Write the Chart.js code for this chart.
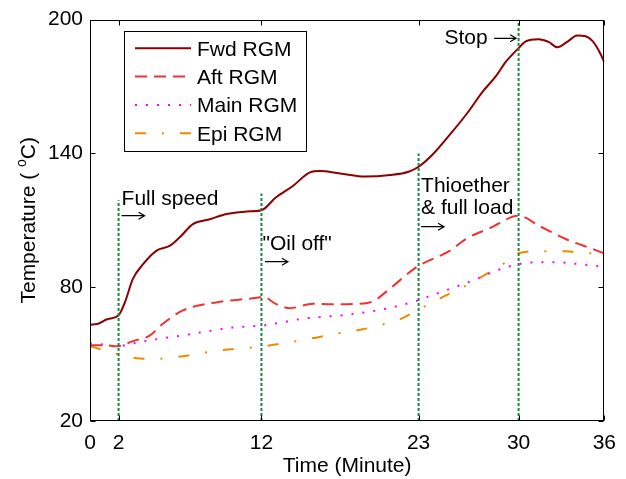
<!DOCTYPE html>
<html><head><meta charset="utf-8">
<script src="https://cdn.jsdelivr.net/npm/chart.js@4.4.1/dist/chart.umd.min.js"></script>
<style>html,body{margin:0;padding:0;background:#fff}</style>
</head><body>
<canvas id="c" width="626" height="479"></canvas>
<script>
// ---- data ----
const timeTicks = [0, 2, 12, 23, 30, 36];
const tempTicks = [20, 80, 140, 200];
const seriesNames = ['Fwd RGM', 'Aft RGM', 'Main RGM', 'Epi RGM'];

const fwdTime = [0, 0.5, 1.2, 2, 2.45, 3.0, 3.7, 4.66, 5.6, 6.3, 7.2, 8.4, 9.55, 11, 12, 13.0, 14.2, 15.4, 16.1, 17.5, 19.3, 21.0, 22.3, 23.0, 24, 25.2, 26.4, 27.5, 28.4, 29.1, 30, 30.5, 31.4, 32.1, 32.7, 33.4, 34.1, 34.7, 35.2, 35.7, 36];
const fwdTemp = [63.2, 63.5, 65.6, 67.4, 73.3, 83.7, 90.2, 96.4, 98.6, 102.5, 108.3, 110.5, 112.8, 114.0, 114.5, 120.2, 125.4, 131.5, 132.1, 131.0, 129.6, 130.3, 131.8, 134, 139.6, 148.5, 158, 167.8, 174.5, 181, 187.2, 190.2, 191.2, 190, 187.6, 190, 192.9, 192.5, 190.2, 185, 180.9];

const aftTime = [0, 1, 1.9, 3, 4.2, 5.1, 6.5, 8.9, 11.9, 12.1, 13, 14, 15.6, 17, 18.5, 19.8, 20.7, 22.9, 25.2, 26.3, 28, 30, 31.5, 33.3, 35.8, 36];
const aftTemp = [54.0, 54.0, 53.5, 55.8, 58.4, 63.6, 69.6, 73.3, 75.5, 75.8, 72.5, 70.6, 72.6, 72.3, 72.5, 73.6, 77.8, 89.2, 96.4, 101.6, 106.5, 112, 107.3, 101.6, 95.6, 95];

const mainTime = [0, 1, 1.9, 3, 4.2, 6.5, 8, 10, 12.1, 13.5, 14.9, 16.5, 18.2, 20, 21.7, 22.9, 24, 25.2, 27, 28.6, 30.3, 31.5, 32.6, 34, 35.8, 36];
const mainTemp = [54.7, 54.2, 53.5, 54.8, 56.2, 58.4, 60, 61.9, 62.9, 64.3, 65.9, 66.8, 67.8, 69.5, 71.8, 74, 76.5, 79.3, 83.5, 87.8, 90.7, 91.2, 91.2, 90.5, 89.2, 89];

const epiTime = [0, 1.4, 2.5, 4.2, 6.1, 9.1, 12.1, 15.4, 17, 19, 20.5, 21.8, 22.9, 24.5, 26.1, 27.5, 29.1, 30, 31.4, 33.3, 34.7, 36];
const epiTemp = [53.5, 51.0, 49, 47.8, 48.7, 51.7, 53.5, 56.9, 58.9, 61, 63.3, 65.9, 69.6, 75, 80, 85, 91.2, 95.2, 96.1, 96.1, 95.2, 95.5];

const eventTimes = [2, 12, 23, 30];
const eventTopTemps = [119, 122, 140, 200];

// ---- chart ----
const FONT = "'Liberation Sans', Arial, Helvetica, sans-serif";
const FS = 21;
Chart.defaults.font.family = FONT;
Chart.defaults.color = '#000';

const pts = (xs, ys) => xs.map((v, i) => ({x: v, y: ys[i]}));
const styles = [
  {color: '#8B0000', dash: [], width: 2},
  {color: '#EE3333', dash: [12, 7], width: 2},
  {color: '#FF00FF', dash: [2, 9], width: 2},
  {color: '#EE8A00', dash: [11, 16, 2, 16], width: 2}
];
const seriesData = [pts(fwdTime, fwdTemp), pts(aftTime, aftTemp), pts(mainTime, mainTemp), pts(epiTime, epiTemp)];

const datasets = [];
eventTimes.forEach((t, i) => {
  datasets.push({
    label: 'event', data: [{x: t, y: 20}, {x: t, y: eventTopTemps[i]}],
    borderColor: '#178a3a', borderWidth: 2, borderDash: [3, 2], pointRadius: 0, tension: 0
  });
});
seriesNames.forEach((n, i) => {
  datasets.push({
    label: n, data: seriesData[i], borderColor: styles[i].color, borderWidth: styles[i].width,
    borderDash: styles[i].dash, pointRadius: 0, tension: 0.35, cubicInterpolationMode: 'monotone', fill: false
  });
});

function arrow(ctx, x0, yc, len) {
  ctx.save();
  ctx.strokeStyle = '#000'; ctx.lineWidth = 1.2; ctx.setLineDash([]);
  ctx.beginPath();
  ctx.moveTo(x0, yc); ctx.lineTo(x0 + len, yc);
  ctx.moveTo(x0 + len - 6, yc - 3.5); ctx.lineTo(x0 + len, yc); ctx.lineTo(x0 + len - 6, yc + 3.5);
  ctx.stroke();
  ctx.restore();
}

const decor = {
  id: 'decor',
  afterDraw(chart) {
    const {ctx, chartArea: a, scales: {x, y}} = chart;
    ctx.save();
    // frame
    ctx.strokeStyle = '#000'; ctx.lineWidth = 1; ctx.setLineDash([]);
    const L = Math.round(a.left) + 0.5, R = Math.round(a.right) - 0.5, T = Math.round(a.top) + 0.5, B = Math.round(a.bottom) - 0.5;
    ctx.strokeRect(L, T, R - L, B - T);
    ctx.beginPath();
    timeTicks.forEach(t => {
      const px = Math.round(x.getPixelForValue(t)) + 0.5;
      ctx.moveTo(px, B); ctx.lineTo(px, B - 5);
      ctx.moveTo(px, T); ctx.lineTo(px, T + 5);
    });
    tempTicks.forEach(v => {
      const py = Math.round(y.getPixelForValue(v)) + 0.5;
      ctx.moveTo(L, py); ctx.lineTo(L + 5, py);
      ctx.moveTo(R, py); ctx.lineTo(R - 5, py);
    });
    ctx.stroke();

    // legend
    const lx = a.left + 34, ly = a.top + 11, lw = 182, lh = 120;
    ctx.fillStyle = '#fff';
    ctx.fillRect(lx, ly, lw, lh);
    ctx.strokeStyle = '#000'; ctx.lineWidth = 1;
    ctx.strokeRect(Math.round(lx) + 0.5, Math.round(ly) + 0.5, lw, lh);
    ctx.font = FS + 'px ' + FONT;
    ctx.textBaseline = 'alphabetic'; ctx.textAlign = 'left';
    seriesNames.forEach((n, i) => {
      const cy = ly + 17.7 + i * 28.3;
      ctx.beginPath();
      ctx.strokeStyle = styles[i].color; ctx.lineWidth = styles[i].width;
      ctx.setLineDash(styles[i].dash);
      ctx.moveTo(lx + 11, cy); ctx.lineTo(lx + 67, cy);
      ctx.stroke();
      ctx.setLineDash([]);
      ctx.fillStyle = '#000';
      ctx.fillText(n, lx + 73, cy + 7.5);
    });

    // annotations
    ctx.fillStyle = '#000';
    ctx.font = FS + 'px ' + FONT;
    ctx.textAlign = 'left'; ctx.textBaseline = 'alphabetic';
    const x2 = x.getPixelForValue(2), x12 = x.getPixelForValue(12), x23 = x.getPixelForValue(23), x30 = x.getPixelForValue(30);
    ctx.fillText('Full speed', x2 + 3, 205);
    ctx.fillText('"Oil off"', x12 + 1, 249.5);
    ctx.fillText('Thioether', x23 + 2.5, 192);
    ctx.fillText('& full load', x23 + 2.5, 213.5);
    ctx.textAlign = 'right';
    ctx.fillText('Stop', x30 - 31, 43.5);
    arrow(ctx, x2 + 3, 215.7, 23);
    arrow(ctx, x12 + 3.5, 261.7, 23);
    arrow(ctx, x23 + 2.5, 226.7, 23);
    arrow(ctx, x30 - 24.5, 38.3, 22);

    // x title
    ctx.textAlign = 'center';
    ctx.fillStyle = '#000';
    ctx.font = FS + 'px ' + FONT;
    ctx.fillText('Time (Minute)', (a.left + a.right) / 2, 472);

    // y title with superscript
    ctx.translate(35, (a.top + a.bottom) / 2);
    ctx.rotate(-Math.PI / 2);
    const p1 = 'Temperature ( ', sup = 'o', p2 = 'C)';
    ctx.font = FS + 'px ' + FONT;
    const w1 = ctx.measureText(p1).width, w3 = ctx.measureText(p2).width;
    ctx.font = '14px ' + FONT;
    const w2 = ctx.measureText(sup).width;
    const start = -(w1 + w2 + w3) / 2;
    ctx.textAlign = 'left';
    ctx.font = FS + 'px ' + FONT;
    ctx.fillText(p1, start, 0);
    ctx.font = '14px ' + FONT;
    ctx.fillText(sup, start + w1, -9);
    ctx.font = FS + 'px ' + FONT;
    ctx.fillText(p2, start + w1 + w2, 0);
    ctx.restore();
  }
};

new Chart(document.getElementById('c'), {
  type: 'line',
  data: {datasets},
  options: {
    responsive: false, animation: false, devicePixelRatio: 1,
    layout: {padding: {top: 18, right: 21, left: 0, bottom: 0}},
    plugins: {legend: {display: false}, tooltip: {enabled: false}, title: {display: false}},
    scales: {
      x: {
        type: 'linear', min: 0, max: 36,
        afterBuildTicks: s => { s.ticks = timeTicks.map(v => ({value: v})); },
        afterFit: s => { s.height = 58; },
        ticks: {font: {size: FS, family: FONT}, color: '#000', padding: 10, maxRotation: 0, autoSkip: false},
        grid: {display: false, drawTicks: false}, border: {display: false}
      },
      y: {
        type: 'linear', min: 20, max: 200,
        afterBuildTicks: s => { s.ticks = tempTicks.map(v => ({value: v})); },
        afterFit: s => { s.width = 90; },
        ticks: {font: {size: FS, family: FONT}, color: '#000', padding: 7, autoSkip: false},
        grid: {display: false, drawTicks: false}, border: {display: false}
      }
    }
  },
  plugins: [decor]
});
</script>
</body></html>
